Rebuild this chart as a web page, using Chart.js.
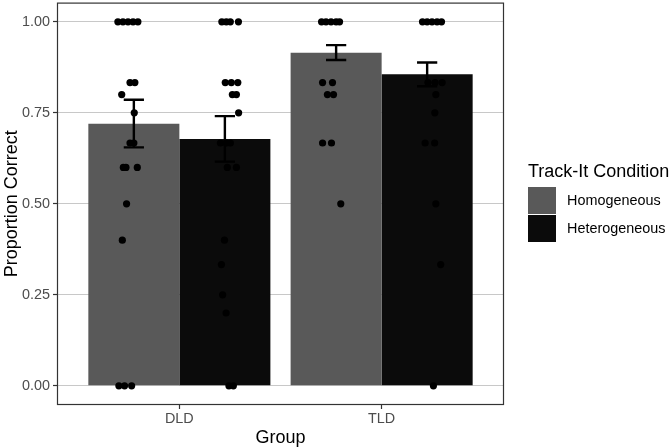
<!DOCTYPE html>
<html>
<head>
<meta charset="utf-8">
<script src="https://cdn.jsdelivr.net/npm/chart.js@4"></script>
<style>
  html, body { margin: 0; padding: 0; background: #ffffff; }
  #wrap { position: relative; width: 669px; height: 447px; font-family: 'Liberation Sans', Arial, sans-serif; }
  #c { position: absolute; left: 0; top: 0; }
  #legend { position: absolute; left: 527px; top: 160px; color: #000; }
  #legend .title { position: absolute; left: 1px; top: 0; font-size: 18px; white-space: nowrap; line-height: 22px; }
  #legend .item { position: absolute; left: 0; height: 28px; white-space: nowrap; }
  #legend .key { position: absolute; left: 1px; top: 0; width: 28px; height: 27px; }
  #legend .lab { position: absolute; left: 40px; top: 5px; font-size: 14.4px; line-height: 17px; }
</style>
</head>
<body>
<div id="wrap">
  <canvas id="c" width="669" height="447"></canvas>
  <div id="legend"></div>
</div>
<script>
// ---- data ----
const groups = ['DLD', 'TLD'];
const conditions = ['Homogeneous', 'Heterogeneous'];
const homMeans = [0.72, 0.915];
const hetMeans = [0.678, 0.856];
const homErrLow = [0.655, 0.895];
const homErrHigh = [0.786, 0.936];
const hetErrLow = [0.616, 0.823];
const hetErrHigh = [0.741, 0.888];
const yTicks = [0, 0.25, 0.5, 0.75, 1];
const yTickLabels = ['0.00', '0.25', '0.50', '0.75', '1.00'];

// individual (jittered) observations: values and horizontal jitter in axis units
const dldHomY = [1, 1, 1, 1, 1, 0.833, 0.833, 0.8, 0.75, 0.667, 0.667, 0.6, 0.6, 0.6, 0.5, 0.4, 0, 0, 0];
const dldHomJit = [-0.079, -0.054, -0.029, -0.004, 0.02, -0.019, 0.005, -0.06, 0.002, -0.019, 0.0, -0.052, -0.039, 0.017, -0.036, -0.057, -0.074, -0.046, -0.011];
const dldHetY = [1, 1, 1, 1, 0.833, 0.833, 0.833, 0.8, 0.8, 0.75, 0.667, 0.667, 0.667, 0.6, 0.6, 0.4, 0.333, 0.25, 0.2, 0, 0];
const dldHetJit = [-0.015, 0.007, 0.027, 0.067, 0.002, 0.032, 0.064, 0.037, 0.057, 0.068, -0.022, 0.007, 0.027, 0.012, 0.057, -0.002, -0.017, -0.011, 0.006, 0.02, 0.042];
const tldHomY = [1, 1, 1, 1, 1, 0.833, 0.833, 0.8, 0.8, 0.667, 0.667, 0.5];
const tldHomJit = [-0.072, -0.05, -0.025, 0.0, 0.017, -0.067, -0.018, -0.043, -0.013, -0.067, -0.023, 0.023];
const tldHetY = [1, 1, 1, 1, 1, 0.833, 0.833, 0.833, 0.8, 0.75, 0.667, 0.667, 0.5, 0.333, 0];
const tldHetJit = [-0.023, 0, 0.024, 0.049, 0.071, 0.004, 0.039, 0.074, 0.043, 0.038, -0.01, 0.037, 0.043, 0.067, 0.031];

// ---- styling ----
const FONT = "'Liberation Sans', Arial, sans-serif";
const colHom = '#595959';
const colHet = '#0b0b0b';
const dodgeWidth = 0.9;           // ggplot position_dodge width
const barHalf = dodgeWidth / 4;   // centre offset of each dodged bar
const capHalf = 0.05;             // error-bar cap half width (axis units)

function pts(groupIdx, side, ys, jit) {
  return ys.map((v, i) => ({ x: groupIdx + 1 + side * barHalf + jit[i], y: v }));
}

const barDs = (label, means, color) => ({
  type: 'bar',
  label: label,
  data: means.map((v, i) => ({ x: i + 1, y: v })),
  backgroundColor: color,
  borderWidth: 0,
  categoryPercentage: dodgeWidth,
  barPercentage: 1.0,
  order: 2
});
const ptDs = (data) => ({
  type: 'scatter',
  data: data,
  pointRadius: 3.6,
  pointBackgroundColor: '#000000',
  pointBorderWidth: 0,
  pointHoverRadius: 3.6,
  order: 1
});

const errorBars = {
  id: 'errorBars',
  afterDatasetsDraw(chart) {
    const ctx = chart.ctx;
    const ys = chart.scales.y, xs = chart.scales.x;
    const sets = [[homErrLow, homErrHigh], [hetErrLow, hetErrHigh]];
    const capPx = xs.getPixelForValue(1 + capHalf) - xs.getPixelForValue(1);
    ctx.save();
    ctx.strokeStyle = '#000';
    ctx.lineWidth = 2.4;
    sets.forEach((s, di) => {
      const meta = chart.getDatasetMeta(di);
      meta.data.forEach((bar, j) => {
        const x = bar.x;
        const y1 = ys.getPixelForValue(s[0][j]);
        const y2 = ys.getPixelForValue(s[1][j]);
        ctx.beginPath();
        ctx.moveTo(x, y1); ctx.lineTo(x, y2);
        ctx.moveTo(x - capPx, y1); ctx.lineTo(x + capPx, y1);
        ctx.moveTo(x - capPx, y2); ctx.lineTo(x + capPx, y2);
        ctx.stroke();
      });
    });
    ctx.restore();
  }
};

const panelBorder = {
  id: 'panelBorder',
  afterDraw(chart) {
    const a = chart.chartArea, ctx = chart.ctx;
    ctx.save();
    ctx.strokeStyle = '#333333';
    ctx.lineWidth = 1.2;
    ctx.strokeRect(a.left - 0.5, a.top - 0.5, a.right - a.left + 1, a.bottom - a.top + 1);
    ctx.restore();
  }
};

new Chart(document.getElementById('c'), {
  type: 'bar',
  data: {
    datasets: [
      barDs(conditions[0], homMeans, colHom),
      barDs(conditions[1], hetMeans, colHet),
      ptDs(pts(0, -1, dldHomY, dldHomJit)),
      ptDs(pts(0, 1, dldHetY, dldHetJit)),
      ptDs(pts(1, -1, tldHomY, tldHomJit)),
      ptDs(pts(1, 1, tldHetY, tldHetJit))
    ]
  },
  options: {
    responsive: false,
    devicePixelRatio: 1,
    animation: false,
    events: [],
    layout: { padding: { left: 0, right: 166, top: 0.5, bottom: 0 } },
    plugins: { legend: { display: false }, tooltip: { enabled: false } },
    scales: {
      x: {
        type: 'linear',
        offset: false,
        min: 0.4,
        max: 2.6,
        afterBuildTicks: s => { s.ticks = groups.map((g, i) => ({ value: i + 1 })); },
        afterFit: s => { s.height = 43; s.paddingLeft = 0; s.paddingRight = 0; },
        ticks: {
          callback: (v, i) => groups[i],
          font: { family: FONT, size: 14.4 },
          color: '#4d4d4d',
          padding: 1,
          maxRotation: 0,
          autoSkip: false
        },
        grid: { offset: false, drawOnChartArea: false, drawTicks: true, tickLength: 5, tickColor: '#333333', tickWidth: 1.2 },
        border: { display: false },
        title: { display: true, text: 'Group', font: { family: FONT, size: 18 }, color: '#000', padding: { top: 0, bottom: -1.5 } }
      },
      y: {
        type: 'linear',
        min: -0.05,
        max: 1.05,
        afterBuildTicks: s => { s.ticks = yTicks.map(v => ({ value: v })); },
        afterFit: s => { s.width = 58; s.paddingTop = 0; s.paddingBottom = 0; },
        ticks: {
          callback: (v, i) => yTickLabels[i],
          font: { family: FONT, size: 14.4 },
          color: '#4d4d4d',
          padding: 3
        },
        grid: { color: '#c8c8c8', lineWidth: 1, drawTicks: true, tickLength: 5, tickColor: '#333333', tickWidth: 1.2 },
        border: { display: false },
        title: { display: true, text: 'Proportion Correct', font: { family: FONT, size: 18 }, color: '#000', padding: { top: 1.5, bottom: 0 } }
      }
    }
  },
  plugins: [errorBars, panelBorder]
});

// legend (HTML text)
const lg = document.getElementById('legend');
const t = document.createElement('div');
t.className = 'title';
t.textContent = 'Track-It Condition';
lg.appendChild(t);
[colHom, colHet].forEach((c, i) => {
  const it = document.createElement('div');
  it.className = 'item';
  it.style.top = (27 + i * 28) + 'px';
  const k = document.createElement('div');
  k.className = 'key';
  k.style.background = c;
  const l = document.createElement('div');
  l.className = 'lab';
  l.textContent = conditions[i];
  it.appendChild(k); it.appendChild(l);
  lg.appendChild(it);
});
</script>
</body>
</html>
